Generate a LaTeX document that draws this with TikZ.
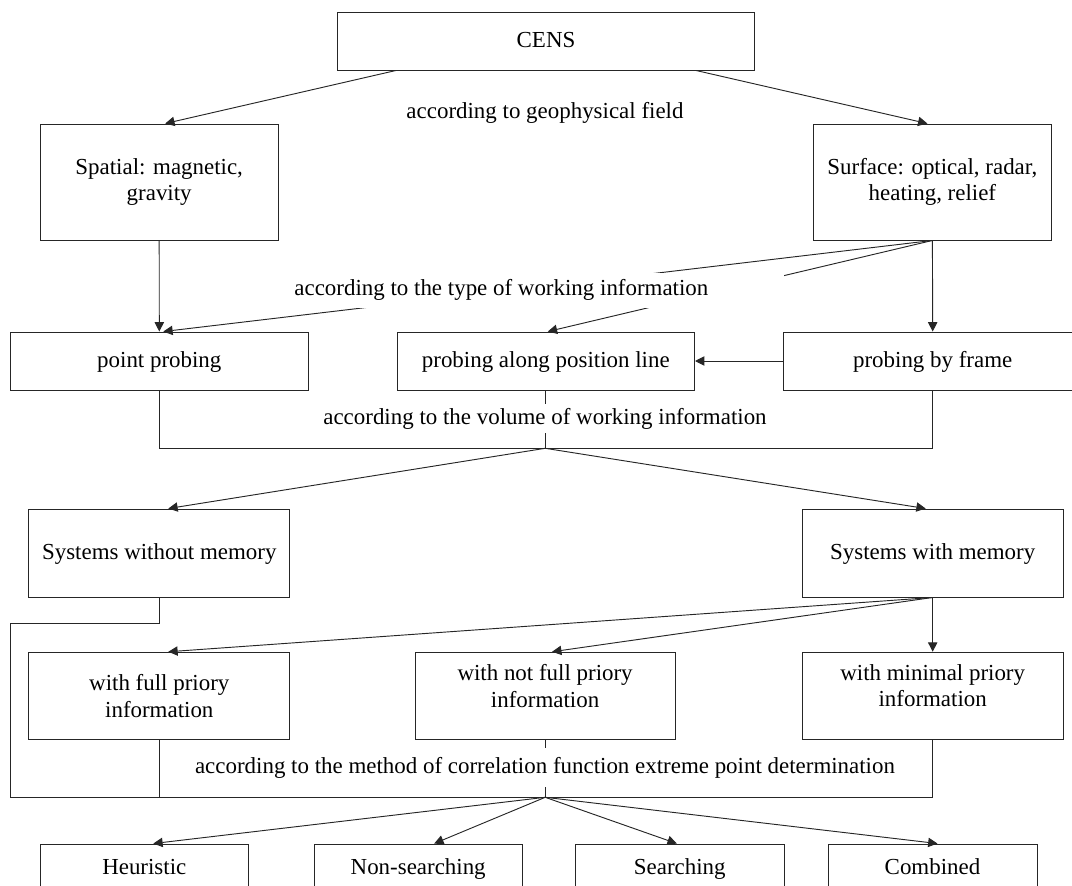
\documentclass[tikz,border=0pt]{standalone}
\usepackage{fontspec}
\setmainfont{Liberation Serif}
\usetikzlibrary{arrows.meta,calc}
\begin{document}
\begin{tikzpicture}[x=0.75pt,y=-0.75pt,
  box/.style 2 args={draw=black!85, line width=0.7pt, minimum width=#1*0.75pt, minimum height=#2*0.75pt, inner sep=0pt, align=center, font=\fontsize{17.2}{20}\selectfont},
  one/.style={text height=12.5pt, text depth=2.5pt},
  lbl/.style={font=\fontsize{17.2}{20}\selectfont, inner sep=0pt},
  wl/.style 2 args={lbl, fill=white, minimum width=#1*0.75pt, minimum height=#2*0.75pt},
  conn/.style={draw=black!85, line width=0.7pt},
  arr/.style={conn, -{Triangle[length=7pt,width=7pt]}}]
\useasboundingbox (0,0) rectangle (1072,886);
\clip (0,0) rectangle (1072,886);

% boxes
\node[box={417}{58}, one] (cens) at (546,41) {CENS};
\node[box={238}{116}] (spatial) at (159.2,182) {Spatial: magnetic,\\gravity};
\node[box={238}{116}] (surface) at (932.4,182) {Surface: optical, radar,\\heating, relief};
\node[lbl] (geo) at (545,113) {according to geophysical field};
\node[box={298}{58}, one] (point) at (159.3,361) {point probing};
\node[box={297.5}{58}, one] (posline) at (545.8,361) {probing along position line};
\node[box={298}{58}, one] (frame) at (932.7,361) {probing by frame};
\node[box={261}{88}, one] (without) at (159.3,553) {Systems without memory};
\node[box={261}{88}, one] (with) at (932.7,553) {Systems with memory};
\node[box={261}{87}] (full) at (159.3,695.7) {with full priory\\information};
\node[box={260}{87}] (notfull) at (545.1,695.7) {};
\node[lbl, align=center] (notfullt) at (545.1,686) {with not full priory\\information};
\node[box={261}{87}] (minimal) at (932.7,695.7) {};
\node[lbl, align=center] (minimalt) at (932.7,685.5) {with minimal priory\\information};
\node[box={208.6}{48}, one] (heur) at (144.3,868) {Heuristic};
\node[box={208.4}{48}, one] (nonsearch) at (418.2,868) {Non-searching};
\node[box={208.4}{48}, one] (search) at (679.8,868) {Searching};
\node[box={209}{48}, one] (comb) at (932.5,868) {Combined};

% level 1
\draw[arr] ($(cens.south)+(-150,0)$) -- ($(spatial.north)+(6,0)$);
\draw[arr] ($(cens.south)+(150,0)$) -- ($(surface.north)+(-5,0)$);

% level 2
\draw[arr] (spatial.south) -- (point.north);
\draw[arr] (surface.south) -- ($(point.north)+(4,0)$);
\draw[arr] (surface.south) -- ($(posline.north)+(2,0)$);
\draw[arr] (surface.south) -- (frame.north);
\draw[arr] (frame.west) -- (posline.east);
\node[wl={565}{34.5}] (type) at (501.4,290.3) {according to the type of working information};

% level 3
\coordinate (j1) at (545.2,448.3);
\draw[conn] (point.south) |- (j1) -| (frame.south);
\draw[conn] (posline.south -| j1) -- (j1);
\node[wl={460}{29}] (vol) at (545,418.5) {according to the volume of working information};
\draw[arr] (j1) -- ($(without.north)+(9,0)$);
\draw[arr] (j1) -- ($(with.north)+(-7,0)$);

% level 4
\draw[arr] (with.south) -- ($(full.north)+(9,0)$);
\draw[arr] (with.south) -- ($(notfull.north)+(7,0)$);
\draw[arr] (with.south) -- (minimal.north);

% level 5
\coordinate (k1) at (10.3,623.3);
\coordinate (j2) at (545.2,797.3);
\draw[conn] (without.south) |- (k1) |- (j2) -| (minimal.south);
\draw[conn] (full.south) -- (full.south |- j2);
\draw[conn] (notfull.south -| j2) -- (j2);
\node[wl={712}{39}] (method) at (545,767.5) {according to the method of correlation function extreme point determination};
\draw[arr] (j2) -- ($(heur.north)+(9,0)$);
\draw[arr] (j2) -- ($(nonsearch.north)+(16,0)$);
\draw[arr] (j2) -- ($(search.north)+(-3,0)$);
\draw[arr] (j2) -- ($(comb.north)+(5,0)$);
\end{tikzpicture}
\end{document}
